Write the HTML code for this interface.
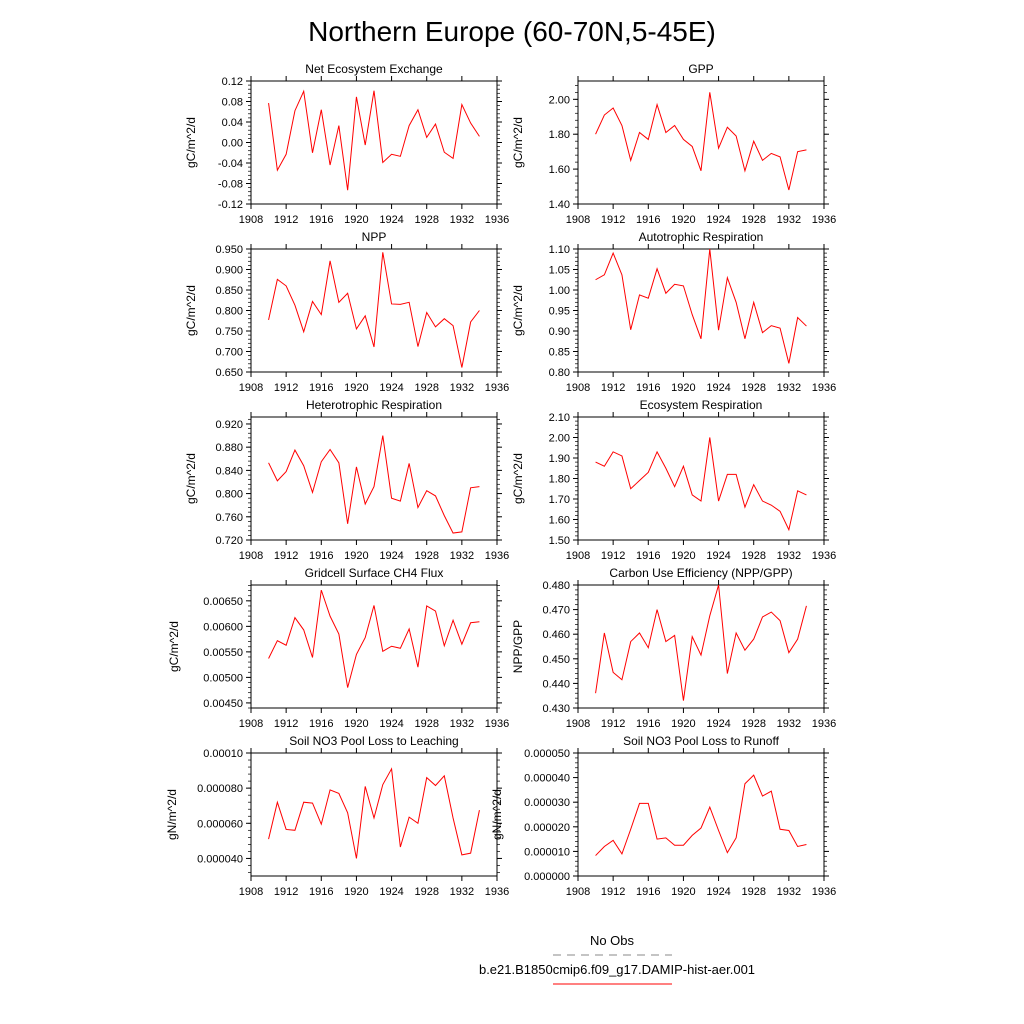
<!DOCTYPE html>
<html><head><meta charset="utf-8"><style>
html,body{margin:0;padding:0;background:#fff}
svg{display:block;font-family:"Liberation Sans",sans-serif}
</style></head><body>
<svg id="chart" width="1024" height="1024" viewBox="0 0 1024 1024" xmlns="http://www.w3.org/2000/svg">
<text x="512" y="41" font-size="28" text-anchor="middle">Northern Europe (60-70N,5-45E)</text>
<g id="panels"></g>
<g>
<text x="612" y="945" font-size="13" text-anchor="middle">No Obs</text>
<line x1="553" y1="955" x2="672" y2="955" stroke="#888" stroke-width="1" stroke-dasharray="8,6"/>
<text x="617" y="974" font-size="13" text-anchor="middle">b.e21.B1850cmip6.f09_g17.DAMIP-hist-aer.001</text>
<line x1="553" y1="984" x2="672" y2="984" stroke="#f00" stroke-width="1"/>
</g>
</svg>
<script>
const years = [1910,1911,1912,1913,1914,1915,1916,1917,1918,1919,1920,1921,1922,1923,1924,1925,1926,1927,1928,1929,1930,1931,1932,1933,1934];
const xTicks = [1908,1912,1916,1920,1924,1928,1932,1936];
const neeValues = [0.077,-0.054,-0.023,0.062,0.100,-0.020,0.064,-0.044,0.033,-0.093,0.089,-0.005,0.101,-0.039,-0.023,-0.027,0.033,0.064,0.010,0.036,-0.019,-0.031,0.074,0.038,0.012];
const neeTicks = ["-0.12","-0.08","-0.04","0.00","0.04","0.08","0.12"];
const gppValues = [1.80,1.91,1.95,1.85,1.65,1.81,1.77,1.97,1.81,1.85,1.77,1.73,1.59,2.04,1.72,1.84,1.79,1.59,1.76,1.65,1.69,1.67,1.48,1.70,1.71];
const gppTicks = ["1.40","1.60","1.80","2.00"];
const nppValues = [0.777,0.876,0.860,0.813,0.748,0.822,0.790,0.921,0.820,0.842,0.755,0.787,0.711,0.942,0.816,0.815,0.820,0.712,0.795,0.760,0.780,0.763,0.661,0.772,0.800];
const nppTicks = ["0.650","0.700","0.750","0.800","0.850","0.900","0.950"];
const arValues = [1.025,1.037,1.090,1.037,0.903,0.988,0.980,1.052,0.992,1.014,1.010,0.940,0.881,1.100,0.902,1.030,0.970,0.881,0.970,0.896,0.913,0.907,0.821,0.933,0.912];
const arTicks = ["0.80","0.85","0.90","0.95","1.00","1.05","1.10"];
const hrValues = [0.853,0.822,0.838,0.875,0.848,0.802,0.855,0.876,0.853,0.748,0.846,0.782,0.812,0.900,0.792,0.787,0.852,0.776,0.805,0.796,0.762,0.732,0.734,0.810,0.812];
const hrTicks = ["0.720","0.760","0.800","0.840","0.880","0.920"];
const erValues = [1.88,1.86,1.93,1.91,1.75,1.79,1.83,1.93,1.85,1.76,1.86,1.72,1.69,2.00,1.69,1.82,1.82,1.66,1.77,1.69,1.67,1.64,1.55,1.74,1.72];
const erTicks = ["1.50","1.60","1.70","1.80","1.90","2.00","2.10"];
const ch4Values = [0.00537,0.00572,0.00563,0.00617,0.00593,0.00539,0.00671,0.00620,0.00585,0.00480,0.00545,0.00578,0.00641,0.00551,0.00561,0.00557,0.00595,0.00520,0.00640,0.00630,0.00562,0.00612,0.00565,0.00607,0.00609];
const ch4Ticks = ["0.00450","0.00500","0.00550","0.00600","0.00650"];
const cueValues = [0.436,0.4605,0.4445,0.4415,0.457,0.4605,0.4545,0.470,0.457,0.4595,0.433,0.459,0.4515,0.4675,0.480,0.444,0.4605,0.4535,0.458,0.467,0.469,0.4655,0.4525,0.458,0.4715];
const cueTicks = ["0.430","0.440","0.450","0.460","0.470","0.480"];
const leachValues = [5.1e-5,7.2e-5,5.65e-5,5.6e-5,7.2e-5,7.15e-5,5.95e-5,7.9e-5,7.7e-5,6.6e-5,4.0e-5,8.1e-5,6.3e-5,8.2e-5,9.1e-5,4.65e-5,6.35e-5,6.0e-5,8.6e-5,8.15e-5,8.7e-5,6.3e-5,4.2e-5,4.3e-5,6.75e-5];
const leachTicks = ["0.000040","0.000060","0.000080","0.00010"];
const runoffValues = [0.83e-5,1.2e-5,1.45e-5,0.9e-5,1.9e-5,2.95e-5,2.95e-5,1.5e-5,1.55e-5,1.25e-5,1.25e-5,1.65e-5,1.95e-5,2.8e-5,1.85e-5,0.95e-5,1.55e-5,3.75e-5,4.1e-5,3.25e-5,3.45e-5,1.9e-5,1.85e-5,1.2e-5,1.28e-5];
const runoffTicks = ["0.000000","0.000010","0.000020","0.000030","0.000040","0.000050"];

const panels = [
 {name:"net-ecosystem-exchange",title:"Net Ecosystem Exchange",ylab:"gC/m^2/d",v:neeValues,t:neeTicks,min:-0.12,max:0.12,col:0,row:0,yt:195},
 {name:"gpp",title:"GPP",ylab:"gC/m^2/d",v:gppValues,t:gppTicks,min:1.40,max:2.105,col:1,row:0,yt:522},
 {name:"npp",title:"NPP",ylab:"gC/m^2/d",v:nppValues,t:nppTicks,min:0.650,max:0.950,col:0,row:1,yt:195},
 {name:"autotrophic-respiration",title:"Autotrophic Respiration",ylab:"gC/m^2/d",v:arValues,t:arTicks,min:0.80,max:1.10,col:1,row:1,yt:522},
 {name:"heterotrophic-respiration",title:"Heterotrophic Respiration",ylab:"gC/m^2/d",v:hrValues,t:hrTicks,min:0.720,max:0.932,col:0,row:2,yt:195},
 {name:"ecosystem-respiration",title:"Ecosystem Respiration",ylab:"gC/m^2/d",v:erValues,t:erTicks,min:1.50,max:2.10,col:1,row:2,yt:522},
 {name:"ch4-flux",title:"Gridcell Surface CH4 Flux",ylab:"gC/m^2/d",v:ch4Values,t:ch4Ticks,min:0.00440,max:0.00681,col:0,row:3,yt:178},
 {name:"carbon-use-efficiency",title:"Carbon Use Efficiency (NPP/GPP)",ylab:"NPP/GPP",v:cueValues,t:cueTicks,min:0.430,max:0.480,col:1,row:3,yt:522},
 {name:"no3-leaching",title:"Soil NO3 Pool Loss to Leaching",ylab:"gN/m^2/d",v:leachValues,t:leachTicks,min:0.000030,max:0.00010,col:0,row:4,yt:176},
 {name:"no3-runoff",title:"Soil NO3 Pool Loss to Runoff",ylab:"gN/m^2/d",v:runoffValues,t:runoffTicks,min:0,max:0.000050,col:1,row:4,yt:501}
];
const NS="http://www.w3.org/2000/svg";
const root=document.getElementById("panels");
function mk(tag,attrs,parent){const e=document.createElementNS(NS,tag);for(const k in attrs)e.setAttribute(k,attrs[k]);parent.appendChild(e);return e;}
panels.forEach(p=>{
 const L=p.col?578:251, R=L+246, T=81+p.row*168, B=T+123;
 const g=mk("g",{},root);
 
 
 const xs=y=>L+(y-1908)/(1936-1908)*(R-L);
 const ys=v=>B-(v-p.min)/(p.max-p.min)*(B-T);
 const frame=mk("rect",{x:L,y:T,width:R-L,height:B-T,fill:"none",stroke:"#000","stroke-width":1},g);
 
 
 const tt=mk("text",{x:(L+R)/2,y:T-8,"font-size":12,"text-anchor":"middle"},g);
 tt.textContent=p.title;
 
 
 xTicks.forEach(yr=>{
  const x=xs(yr);
  mk("line",{x1:x,y1:B,x2:x,y2:B+5,stroke:"#000"},g);
  mk("line",{x1:x,y1:T,x2:x,y2:T-5,stroke:"#000"},g);
  const lb=mk("text",{x:x,y:B+19,"font-size":11,"text-anchor":"middle"},g);
  lb.textContent=yr;
  
  
 });
 const vals=p.t.map(Number);
 const step=vals.length>1?vals[1]-vals[0]:1;
 for(let v=vals[0]-step;v<=p.max+1e-12;v+=step/5){
  if(v<p.min-1e-12)continue;
  const y=ys(v);
  mk("line",{x1:L,y1:y,x2:L-3,y2:y,stroke:"#000","stroke-width":0.7},g);
  mk("line",{x1:R,y1:y,x2:R+3,y2:y,stroke:"#000","stroke-width":0.7},g);
 }
 p.t.forEach(s=>{
  const y=ys(Number(s));
  mk("line",{x1:L,y1:y,x2:L-5,y2:y,stroke:"#000"},g);
  mk("line",{x1:R,y1:y,x2:R+5,y2:y,stroke:"#000"},g);
  const lb=mk("text",{x:L-8,y:y+4,"font-size":11,"text-anchor":"end"},g);
  lb.textContent=s;
  
  
 });
 const yl=mk("text",{x:p.yt,y:(T+B)/2,"font-size":12,"text-anchor":"middle",transform:`rotate(-90 ${p.yt} ${(T+B)/2})`},g);
 yl.textContent=p.ylab;
 
 
 const pts=p.v.map((v,i)=>xs(years[i]).toFixed(2)+","+ys(v).toFixed(2)).join(" ");
 const line=mk("polyline",{points:pts,fill:"none",stroke:"#f00","stroke-width":1},g);
 
 
});
</script>
</body></html>
